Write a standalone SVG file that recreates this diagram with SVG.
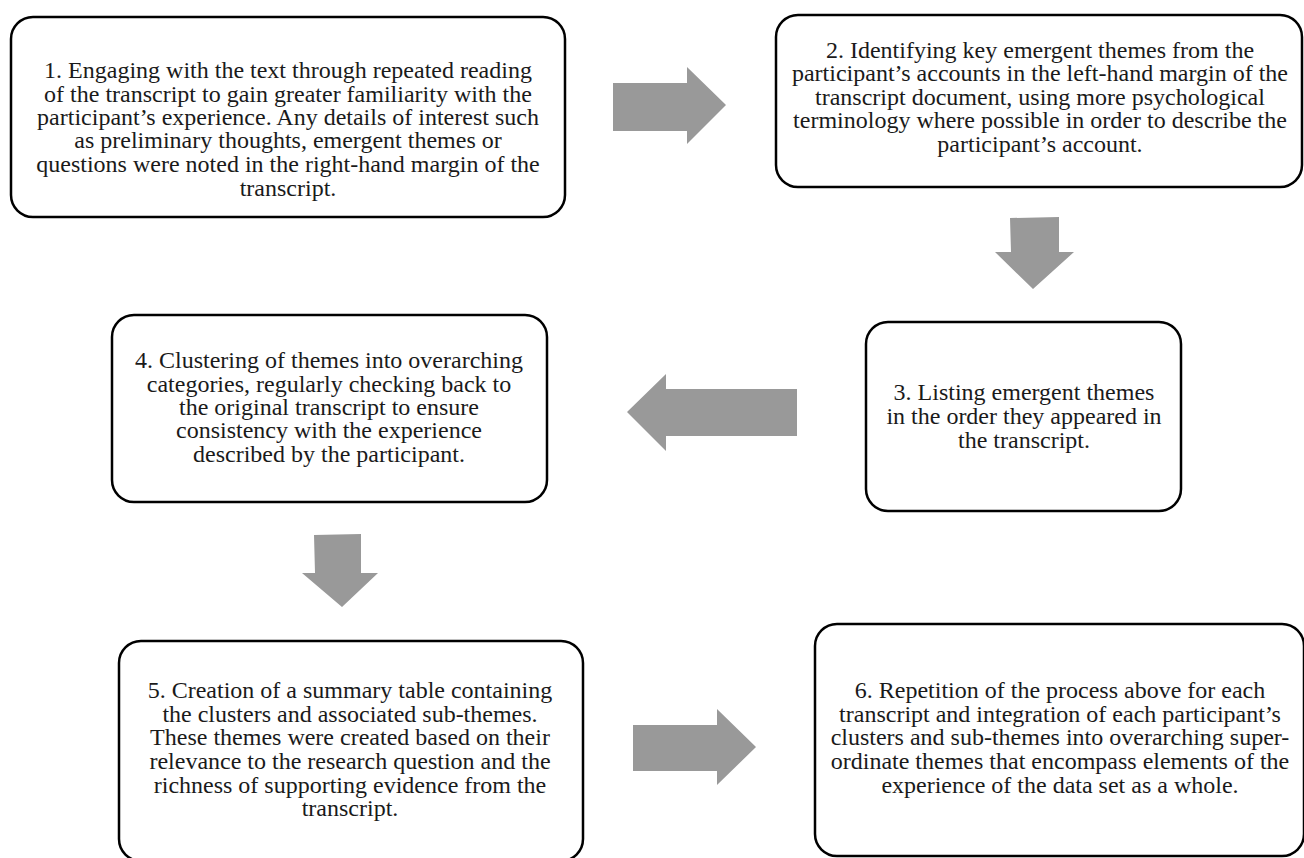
<svg xmlns="http://www.w3.org/2000/svg" width="1304" height="858" viewBox="0 0 1304 858">
<style>
.box{fill:#fff;stroke:#000;stroke-width:2.5}
.t{font-family:"Liberation Serif","Times New Roman",serif;font-size:24px;fill:#1a1a1a;text-anchor:middle}
.arr{fill:#999999}
</style>
<rect width="1304" height="858" fill="#fff"/>
<g id="connectors">
<polygon class="arr" points="613,83 687,83 687,67 726,105 687,144 687,131 613,131"/>
<polygon class="arr" points="1010,218 1059,217 1059,252 1074,252 1033,289 995,252 1011,252"/>
<polygon class="arr" points="797,389 666,389 666,374 627,412 666,451 666,436 797,436"/>
<polygon class="arr" points="314,535 361,534 361,573 378,573 342,607 302,573 315,573"/>
<polygon class="arr" points="633,725 717,725 717,709 756,747 717,785 717,771 633,771"/>
</g>
<g id="node1">
<rect class="box" x="11" y="17" width="554" height="200" rx="22"/>
<text class="t"><tspan x="288" y="78">1. Engaging with the text through repeated reading</tspan><tspan x="288" y="102">of the transcript to gain greater familiarity with the</tspan><tspan x="288" y="125">participant’s experience. Any details of interest such</tspan><tspan x="288" y="148">as preliminary thoughts, emergent themes or</tspan><tspan x="288" y="172">questions were noted in the right-hand margin of the</tspan><tspan x="288" y="196">transcript.</tspan></text>
</g>
<g id="node2">
<rect class="box" x="776" y="15" width="526" height="172" rx="22"/>
<text class="t"><tspan x="1040" y="58">2. Identifying key emergent themes from the</tspan><tspan x="1040" y="81">participant’s accounts in the left-hand margin of the</tspan><tspan x="1040" y="105">transcript document, using more psychological</tspan><tspan x="1040" y="128">terminology where possible in order to describe the</tspan><tspan x="1040" y="152">participant’s account.</tspan></text>
</g>
<g id="node3">
<rect class="box" x="866" y="322" width="315" height="189" rx="22"/>
<text class="t"><tspan x="1024" y="400">3. Listing emergent themes</tspan><tspan x="1024" y="424">in the order they appeared in</tspan><tspan x="1024" y="448">the transcript.</tspan></text>
</g>
<g id="node4">
<rect class="box" x="112" y="315" width="435" height="187" rx="22"/>
<text class="t"><tspan x="329" y="368">4. Clustering of themes into overarching</tspan><tspan x="329" y="392">categories, regularly checking back to</tspan><tspan x="329" y="415">the original transcript to ensure</tspan><tspan x="329" y="438">consistency with the experience</tspan><tspan x="329" y="462">described by the participant.</tspan></text>
</g>
<g id="node5">
<rect class="box" x="119" y="641" width="464" height="220" rx="22"/>
<text class="t"><tspan x="350" y="698">5. Creation of a summary table containing</tspan><tspan x="350" y="722">the clusters and associated sub-themes.</tspan><tspan x="350" y="745">These themes were created based on their</tspan><tspan x="350" y="769">relevance to the research question and the</tspan><tspan x="350" y="793">richness of supporting evidence from the</tspan><tspan x="350" y="816">transcript.</tspan></text>
</g>
<g id="node6">
<rect class="box" x="815" y="624" width="489" height="232" rx="22"/>
<text class="t"><tspan x="1060" y="698">6. Repetition of the process above for each</tspan><tspan x="1060" y="722">transcript and integration of each participant’s</tspan><tspan x="1060" y="745">clusters and sub-themes into overarching super-</tspan><tspan x="1060" y="769">ordinate themes that encompass elements of the</tspan><tspan x="1060" y="793">experience of the data set as a whole.</tspan></text>
</g>
</svg>
